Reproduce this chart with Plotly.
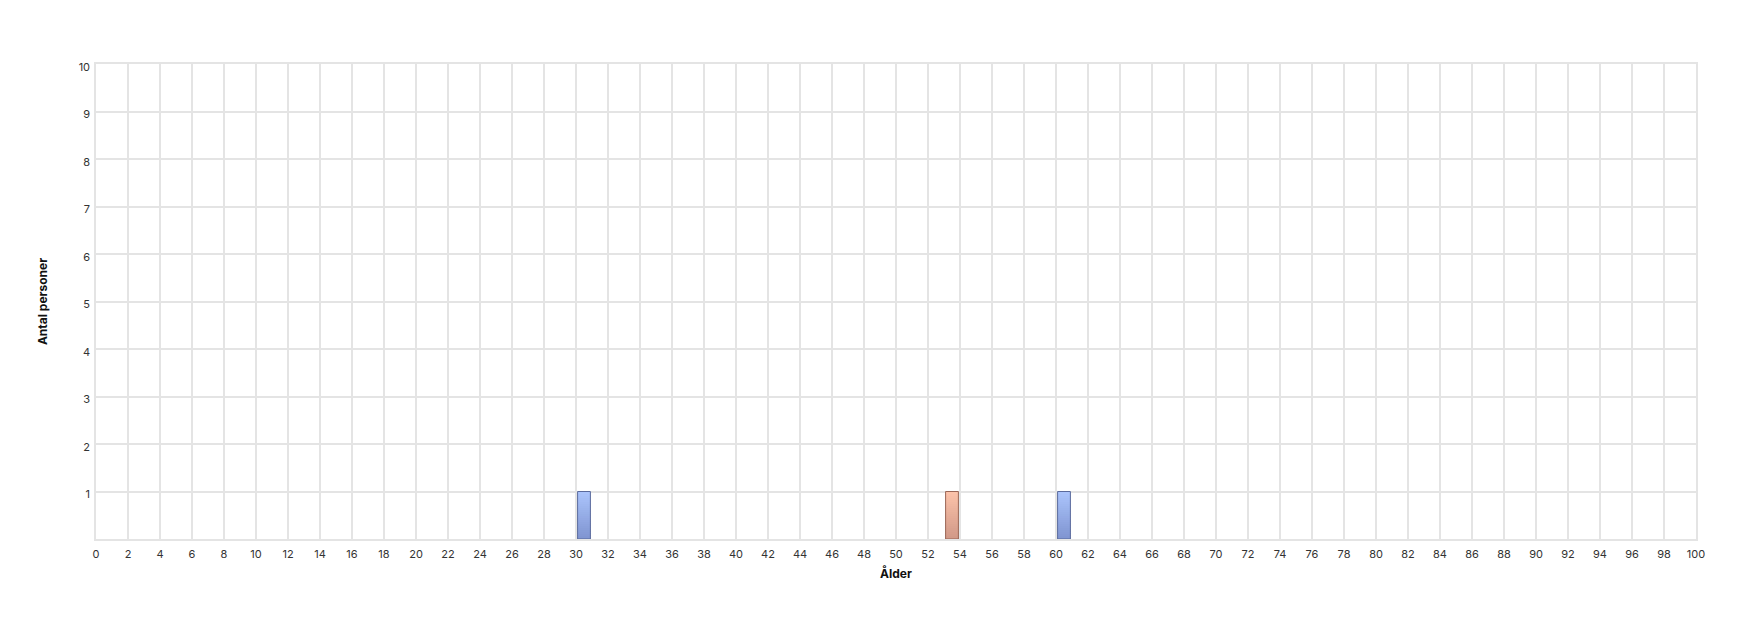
import plotly.graph_objects as go

# Data
blue_ages = [30, 60]
blue_counts = [1, 1]
orange_ages = [53]
orange_counts = [1]
x_ticks = list(range(0, 101, 2))
y_ticks = list(range(1, 11))

BAR_W = 0.8
N_SEG = 24

def hex_to_rgb(h):
    h = h.lstrip('#')
    return tuple(int(h[i:i+2], 16) for i in (0, 2, 4))

def lerp(c1, c2, t):
    a, b = hex_to_rgb(c1), hex_to_rgb(c2)
    return "rgb(%d,%d,%d)" % tuple(round(a[i] + (b[i] - a[i]) * t) for i in range(3))

fig = go.Figure()

def add_series(ages, counts, top_c, bot_c, line_c, name):
    xs = [a + 0.5 for a in ages]
    for k in range(N_SEG):
        t = (k + 0.5) / N_SEG  # from bottom
        fig.add_trace(go.Bar(
            x=xs, y=[c / N_SEG for c in counts], base=[c * k / N_SEG for c in counts],
            width=BAR_W, marker=dict(color=lerp(bot_c, top_c, t), line=dict(width=0)),
            showlegend=False, hoverinfo="skip"))
    fig.add_trace(go.Bar(
        x=xs, y=counts, width=BAR_W, name=name,
        marker=dict(color="rgba(0,0,0,0)", line=dict(color=line_c, width=1)),
        showlegend=False))

add_series(blue_ages, blue_counts, "#abc4fc", "#7e93cf", "#5a6a9c", "Män")
add_series(orange_ages, orange_counts, "#fcc3aa", "#cf9786", "#9a6656", "Kvinnor")

font_family = "Inter, Roboto, sans-serif"
fig.update_layout(
    width=1760, height=628,
    barmode="overlay",
    plot_bgcolor="white", paper_bgcolor="white",
    margin=dict(l=96, r=64, t=64, b=89),
    font=dict(family=font_family, size=11, color="#333333"),
    showlegend=False,
    xaxis=dict(
        range=[0, 100], tickvals=x_ticks, ticktext=[str(v) for v in x_ticks],
        showgrid=True, gridcolor="#e4e4e4", gridwidth=1.5,
        showline=True, linecolor="#e4e4e4", linewidth=1.5, mirror=True,
        zeroline=False, ticks="", ticklabelstandoff=4,
        title=dict(text="<b>Ålder</b>", font=dict(size=12, color="#111111"), standoff=10),
    ),
    yaxis=dict(
        range=[0, 10], tickvals=y_ticks, ticktext=[str(v) for v in y_ticks],
        showgrid=True, gridcolor="#e4e4e4", gridwidth=1.5,
        showline=True, linecolor="#e4e4e4", linewidth=1.5, mirror=True,
        zeroline=False, ticks="", ticklabelstandoff=2, ticklabelshift=3,
        title=dict(text="<b>Antal personer</b>", font=dict(size=12, color="#111111"), standoff=28),
    ),
)

fig.write_html("out.html", config={"displayModeBar": False},
               post_script="document.body.style.margin='0';")
